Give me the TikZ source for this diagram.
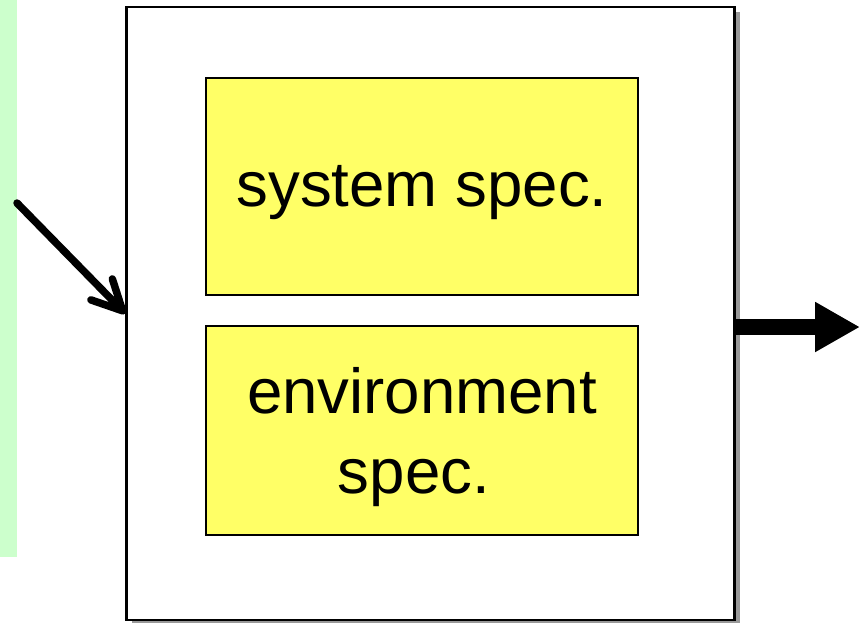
\documentclass[tikz,border=0pt]{standalone}
\usepackage{fontspec}
\setmainfont{Liberation Sans}
\usetikzlibrary{arrows.meta,shadows}
\definecolor{paleGreen}{HTML}{CCFFCC}
\definecolor{specYellow}{HTML}{FFFF66}
\definecolor{shadowGray}{HTML}{999999}
\begin{document}
\begin{tikzpicture}[x=1pt,y=-1pt,
  outerbox/.style={draw=black, line width=2.5pt, fill=white,
    minimum width=608pt, minimum height=613pt, inner sep=0pt,
    drop shadow={shadow xshift=5pt, shadow yshift=-5pt, fill=shadowGray, opacity=1}},
  specbox/.style={draw=black, line width=2.2pt, fill=specYellow,
    minimum width=432pt, inner sep=0pt},
  spectext/.style={inner sep=0pt, align=center,
    font=\fontsize{63.6}{80}\selectfont},
  inarrow/.style={line width=7.5pt, line cap=round, line join=round,
    -{Straight Barb[length=30pt, width=30pt, line cap=round, line join=round]}},
  outarrow/.style={line width=16pt, -{Triangle[length=45pt, width=47pt]}}]
  \useasboundingbox (0,0) rectangle (860,622);
  % side band
  \fill[paleGreen] (0,0) rectangle (16.5,557);
  % enclosing block
  \node[outerbox] (block) at (430.5,313.5) {};
  % specification parts
  \node[specbox, minimum height=217pt] (sys) at (422,186.5) {};
  \node[specbox, minimum height=209pt] (env) at (422,430.5) {};
  \node[spectext] (systxt) at ([yshift=-6pt]sys.center) {system spec.};
  \node[spectext] (envtxt) at ([yshift=-7pt]env.center) {environment\\spec.\hspace*{16pt}};
  % input and output
  \coordinate (src) at (17,203);
  \coordinate (dst) at (860,327);
  \draw[inarrow] (src) -- (block.west);
  \draw[outarrow] (block.east |- dst) -- (dst);
\end{tikzpicture}
\end{document}
